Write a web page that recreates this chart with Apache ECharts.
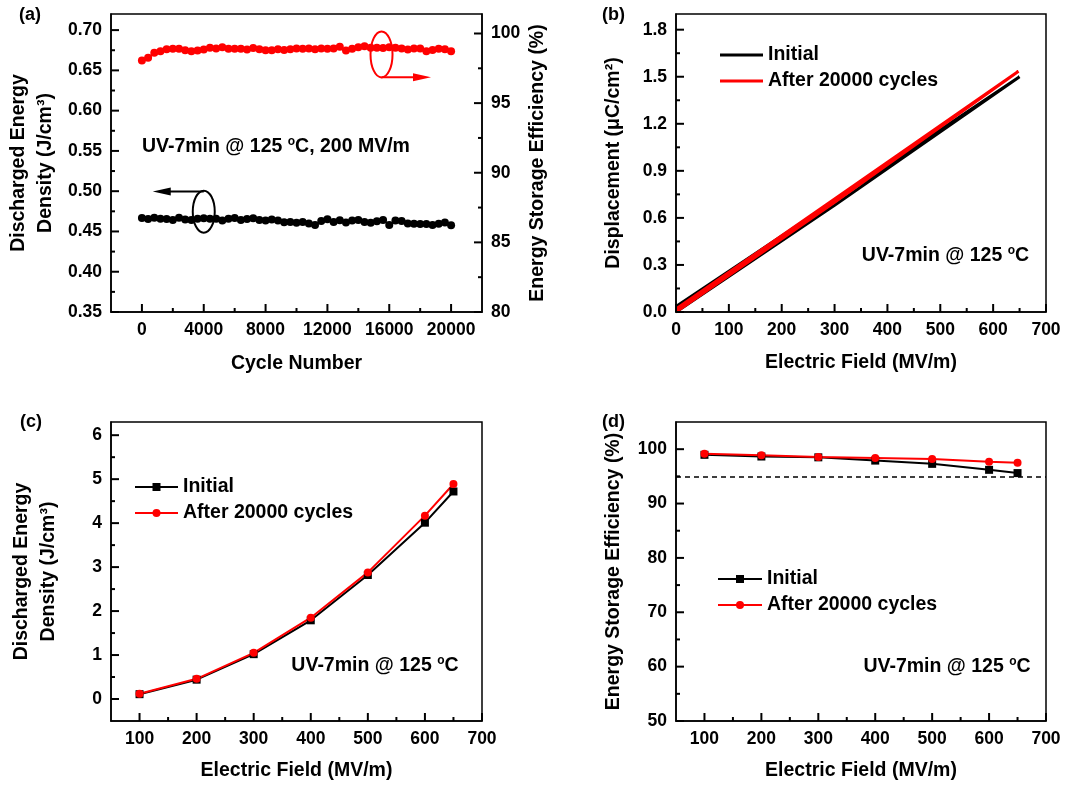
<!DOCTYPE html>
<html><head><meta charset="utf-8">
<script src="https://cdn.jsdelivr.net/npm/echarts@6/dist/echarts.min.js"></script>
<style>html,body{margin:0;padding:0;background:#fff}#c{width:1070px;height:785px}</style>
</head><body><div id="c"></div>
<script>
// ---------- DATA ----------
const aCycles = [0,400,800,1200,1600,2000,2400,2800,3200,3600,4000,4400,4800,5200,5600,6000,6400,6800,7200,7600,8000,8400,8800,9200,9600,10000,10400,10800,11200,11600,12000,12400,12800,13200,13600,14000,14400,14800,15200,15600,16000,16400,16800,17200,17600,18000,18400,18800,19200,19600,20000];
const aDensity = [0.4667,0.4655,0.4671,0.4659,0.4655,0.4643,0.4671,0.4647,0.4643,0.4659,0.4663,0.4659,0.4659,0.4635,0.4659,0.4667,0.4643,0.4655,0.4663,0.4643,0.4635,0.4647,0.4635,0.4613,0.4619,0.4607,0.4619,0.4600,0.4580,0.4631,0.4651,0.4619,0.4639,0.4611,0.4635,0.4643,0.4619,0.4607,0.4627,0.4643,0.4580,0.4635,0.4631,0.4600,0.4595,0.4592,0.4592,0.4580,0.4596,0.4611,0.4576];
const aEfficiency = [98.06,98.25,98.61,98.73,98.87,98.90,98.90,98.80,98.73,98.78,98.85,98.97,98.92,99.02,98.90,98.90,98.90,98.85,98.95,98.87,98.80,98.80,98.87,98.82,98.87,98.92,98.90,98.92,98.87,98.92,98.90,98.92,99.04,98.78,98.90,99.02,99.09,98.97,98.97,98.95,99.02,98.97,98.92,98.85,98.92,98.92,98.73,98.82,98.90,98.87,98.73];

const bInitialField = [0,300,650,300,0];
const bInitialD     = [0,0.68,1.50,0.71,0.035];
const bAfterField   = [0,300,648,300,0];
const bAfterD       = [0,0.70,1.535,0.72,0.02];

const cField   = [100,200,300,400,500,600,650];
const cInitial = [0.11,0.44,1.02,1.79,2.82,4.01,4.72];
const cAfter   = [0.12,0.46,1.05,1.85,2.88,4.17,4.89];

const dField   = [100,200,300,400,500,600,650];
const dInitial = [98.96,98.65,98.5,97.9,97.3,96.2,95.6];
const dAfter   = [99.14,98.9,98.55,98.4,98.2,97.7,97.5];
const dThreshold = 95;

// tick labels (major ticks) and minor ticks
const aXLabels  = [0,4000,8000,12000,16000,20000];
const aXMinor   = [2000,6000,10000,14000,18000];
const aYLLabels = [0.35,0.40,0.45,0.50,0.55,0.60,0.65,0.70];
const aYLMinor  = [0.375,0.425,0.475,0.525,0.575,0.625,0.675];
const aYRLabels = [80,85,90,95,100];
const aYRMinor  = [82.5,87.5,92.5,97.5];
const bXLabels  = [0,100,200,300,400,500,600,700];
const bXMinor   = [50,150,250,350,450,550,650];
const bYLabels  = [0,0.3,0.6,0.9,1.2,1.5,1.8];
const bYMinor   = [0.15,0.45,0.75,1.05,1.35,1.65];
const cXLabels  = [100,200,300,400,500,600,700];
const cXMinor   = [150,250,350,450,550,650];
const cYLabels  = [0,1,2,3,4,5,6];
const cYMinor   = [0.5,1.5,2.5,3.5,4.5,5.5];
const dXLabels  = [100,200,300,400,500,600,700];
const dXMinor   = [150,250,350,450,550,650];
const dYLabels  = [50,60,70,80,90,100];
const dYMinor   = [55,65,75,85,95];

// ---------- STYLE ----------
const FONT = '"Liberation Sans", Arial, sans-serif';
const TICK_FS = 17.5, TITLE_FS = 19.5;

function axis(grid, position, min, max, interval, labels, fmt, name, nameGap, nameLH) {
  const shown = v => labels.some(l => Math.abs(l - v) < 1e-6);
  return {
    type: 'value', gridIndex: grid, position: position, min: min, max: max, interval: interval,
    axisLine: { show: true, onZero: false, lineStyle: { color: '#000', width: 1.5 } },
    axisTick: { show: false },
    minorTick: { show: false },
    axisLabel: { show: true, formatter: v => (shown(v) ? fmt(v) : ''), margin: 9, color: '#000',
      fontSize: TICK_FS, fontWeight: 'bold', fontFamily: FONT, hideOverlap: false },
    splitLine: { show: false }, minorSplitLine: { show: false },
    name: name, nameLocation: 'middle', nameGap: nameGap,
    nameTextStyle: { color: '#000', fontSize: TITLE_FS, fontWeight: 'bold', fontFamily: FONT, lineHeight: nameLH || 23 }
  };
}

const grids = [
  { left: 111, top: 14, width: 371, height: 298 },
  { left: 676, top: 14, width: 370, height: 298 },
  { left: 111, top: 422, width: 371, height: 299 },
  { left: 676, top: 422, width: 370, height: 299 }
].map(g => Object.assign(g, { show: true, borderColor: '#000', borderWidth: 1.5, containLabel: false, outerBoundsMode: 'none' }));

const f0 = v => String(Math.round(v));
const f1 = v => v.toFixed(1);
const f2 = v => v.toFixed(2);

const xAxes = [
  axis(0, 'bottom', -2000, 22000, 2000, aXLabels, f0, 'Cycle Number', 40),
  axis(1, 'bottom', 0, 700, 100, bXLabels, f0, 'Electric Field (MV/m)', 39),
  axis(2, 'bottom', 50, 700, 50, cXLabels, f0, 'Electric Field (MV/m)', 38),
  axis(3, 'bottom', 50, 700, 50, dXLabels, f0, 'Electric Field (MV/m)', 38)
];
const yAxes = [
  axis(0, 'left', 0.35, 0.72, 0.05, aYLLabels, f2, 'Discharged Energy\nDensity (J/cm³)', 52, 27),
  axis(0, 'right', 80, 101.4, 5, aYRLabels, f0, 'Energy Storage Efficiency (%)', 44),
  axis(1, 'left', 0, 1.9, 0.3, bYLabels, f1, 'Displacement (μC/cm²)', 51),
  axis(2, 'left', -0.5, 6.3, 0.5, cYLabels, f0, 'Discharged Energy\nDensity (J/cm³)', 49, 27),
  axis(3, 'left', 50, 105, 10, dYLabels, f0, 'Energy Storage Efficiency (%)', 51)
];
// indices: x: a0 b1 c2 d3 ; y: aL0 aR1 b2 c3 d4

const zip = (xs, ys) => xs.map((x, i) => [x, ys[i]]);
const legendText = { color: '#000', fontSize: TITLE_FS, fontWeight: 'bold', fontFamily: FONT };

const series = [
  { type: 'line', name: 'a|density', xAxisIndex: 0, yAxisIndex: 0, data: zip(aCycles, aDensity),
    symbol: 'circle', symbolSize: 8, lineStyle: { color: '#000', width: 1.5 }, itemStyle: { color: '#000' } },
  { type: 'line', name: 'a|efficiency', xAxisIndex: 0, yAxisIndex: 1, data: zip(aCycles, aEfficiency),
    symbol: 'circle', symbolSize: 8, lineStyle: { color: '#f00', width: 1.5 }, itemStyle: { color: '#f00' } },

  { type: 'line', name: 'b|Initial', xAxisIndex: 1, yAxisIndex: 2, data: zip(bInitialField, bInitialD),
    symbol: 'none', lineStyle: { color: '#000', width: 3 }, itemStyle: { color: '#000' } },
  { type: 'line', name: 'b|After 20000 cycles', xAxisIndex: 1, yAxisIndex: 2, data: zip(bAfterField, bAfterD),
    symbol: 'none', lineStyle: { color: '#f00', width: 3 }, itemStyle: { color: '#f00' } },

  { type: 'line', name: 'c|Initial', xAxisIndex: 2, yAxisIndex: 3, data: zip(cField, cInitial),
    symbol: 'rect', symbolSize: 8, lineStyle: { color: '#000', width: 2 }, itemStyle: { color: '#000' } },
  { type: 'line', name: 'c|After 20000 cycles', xAxisIndex: 2, yAxisIndex: 3, data: zip(cField, cAfter),
    symbol: 'circle', symbolSize: 8, lineStyle: { color: '#f00', width: 2 }, itemStyle: { color: '#f00' } },

  { type: 'line', name: 'd|Initial', xAxisIndex: 3, yAxisIndex: 4, data: zip(dField, dInitial),
    symbol: 'rect', symbolSize: 8, lineStyle: { color: '#000', width: 2 }, itemStyle: { color: '#000' },
    markLine: { silent: true, symbol: ['none', 'none'], label: { show: false },
      lineStyle: { type: [5, 4], color: '#000', width: 1.5 }, data: [{ yAxis: dThreshold }] } },
  { type: 'line', name: 'd|After 20000 cycles', xAxisIndex: 3, yAxisIndex: 4, data: zip(dField, dAfter),
    symbol: 'circle', symbolSize: 8, lineStyle: { color: '#f00', width: 2 }, itemStyle: { color: '#f00' } }
];

const mkLegend = (p, left, top, width, lineOnly) => ({
  orient: 'vertical', left: left, top: top, padding: 0,
  itemGap: 6, itemWidth: width, itemHeight: lineOnly ? 3 : 10,
  icon: lineOnly ? 'rect' : undefined,
  data: [p + '|Initial', p + '|After 20000 cycles'], formatter: n => n.split('|')[1],
  textStyle: legendText, selectedMode: false
});

const option = {
  animation: false,
  backgroundColor: '#fff',
  grid: grids,
  xAxis: xAxes,
  yAxis: yAxes,
  legend: [mkLegend('b', 720, 45, 43, true), mkLegend('c', 134, 477, 43, false), mkLegend('d', 717, 569, 44, false)],
  series: series
};

const chart = echarts.init(document.getElementById('c'), null, { renderer: 'canvas' });
chart.setOption(option);

// ---------- TICKS & ANNOTATIONS ----------
const P = (xi, yi, pt) => chart.convertToPixel({ xAxisIndex: xi, yAxisIndex: yi }, pt);

function ticks(xi, yi, dir, side, values, len) {
  const xr = [xAxes[xi].min, xAxes[xi].max], yr = [yAxes[yi].min, yAxes[yi].max];
  const pts = [];
  values.forEach(v => {
    if (dir === 'x') {
      const p = P(xi, yi, [v, yr[0]]);
      pts.push([[p[0], p[1]], [p[0], p[1] - len]]);
    } else {
      const edge = side === 'left' ? xr[0] : xr[1];
      const p = P(xi, yi, [edge, v]);
      const s = side === 'left' ? 1 : -1;
      pts.push([[p[0], p[1]], [p[0] + s * len, p[1]]]);
    }
  });
  return pts.map(seg => ({
    type: 'polyline', z: 100, silent: true,
    shape: { points: seg },
    style: { stroke: '#000', lineWidth: 2, fill: null }
  }));
}
const MAJ = 8, MIN = 4;
const tickEls = [].concat(
  ticks(0, 0, 'x', 'bottom', aXLabels, MAJ), ticks(0, 0, 'x', 'bottom', aXMinor, MIN),
  ticks(0, 0, 'y', 'left', aYLLabels, MAJ), ticks(0, 0, 'y', 'left', aYLMinor, MIN),
  ticks(0, 1, 'y', 'right', aYRLabels, MAJ), ticks(0, 1, 'y', 'right', aYRMinor, MIN),
  ticks(1, 2, 'x', 'bottom', bXLabels, MAJ), ticks(1, 2, 'x', 'bottom', bXMinor, MIN),
  ticks(1, 2, 'y', 'left', bYLabels, MAJ), ticks(1, 2, 'y', 'left', bYMinor, MIN),
  ticks(2, 3, 'x', 'bottom', cXLabels, MAJ), ticks(2, 3, 'x', 'bottom', cXMinor, MIN),
  ticks(2, 3, 'y', 'left', cYLabels, MAJ), ticks(2, 3, 'y', 'left', cYMinor, MIN),
  ticks(3, 4, 'x', 'bottom', dXLabels, MAJ), ticks(3, 4, 'x', 'bottom', dXMinor, MIN),
  ticks(3, 4, 'y', 'left', dYLabels, MAJ), ticks(3, 4, 'y', 'left', dYMinor, MIN)
);

const rich = {
  n: { fontSize: TITLE_FS, fontWeight: 'bold', fontFamily: FONT, fill: '#000', color: '#000', lineHeight: 22 },
  s: { fontSize: 12, fontWeight: 'bold', fontFamily: FONT, fill: '#000', color: '#000', lineHeight: 22, verticalAlign: 'top' }
};
function note(pt, text, align) {
  return { type: 'text', x: pt[0], y: pt[1], z: 100,
    style: { text: text, rich: rich, align: align, verticalAlign: 'middle', textAlign: align, textVerticalAlign: 'middle' } };
}
function panelLabel(x, y, t) {
  return { type: 'text', x: x, y: y, z: 100, style: { text: t, fill: '#000', font: 'bold 18px ' + FONT, verticalAlign: 'middle', textVerticalAlign: 'middle' } };
}
function arrow(from, tipX, color) {
  const y = from[1];
  const dir = tipX > from[0] ? 1 : -1;
  return [
    { type: 'line', z: 100, shape: { x1: from[0], y1: y, x2: tipX - dir * 14, y2: y }, style: { stroke: color, lineWidth: 2 } },
    { type: 'polygon', z: 100, shape: { points: [[tipX, y], [tipX - dir * 18, y - 4], [tipX - dir * 18, y + 4]] }, style: { fill: color } }
  ];
}

const redC = P(0, 1, [15500, 98.5]);
const redArrowStart = P(0, 1, [15500, 96.85]);
const redArrowTip = P(0, 1, [18700, 96.85]);
const blkC = P(0, 0, [4000, 0.4746]);
const blkArrowStart = P(0, 0, [4000, 0.4996]);
const blkArrowTip = P(0, 0, [700, 0.4996]);

const graphics = tickEls.concat([
  panelLabel(19, 15, '(a)'), panelLabel(602, 15, '(b)'), panelLabel(20, 422, '(c)'), panelLabel(602, 422, '(d)'),
  note(P(0, 0, [0, 0.555]), '{n|UV-7min @ 125 }{s|o}{n|C, 200 MV/m}', 'left'),
  note(P(1, 2, [668, 0.36]), '{n|UV-7min @ 125 }{s|o}{n|C}', 'right'),
  note(P(2, 3, [659, 0.75]), '{n|UV-7min @ 125 }{s|o}{n|C}', 'right'),
  note(P(3, 4, [673, 60]), '{n|UV-7min @ 125 }{s|o}{n|C}', 'right'),
  { type: 'ellipse', z: 100, shape: { cx: redC[0], cy: redC[1], rx: 11, ry: 23 }, style: { fill: 'none', stroke: '#f00', lineWidth: 2 } },
  { type: 'ellipse', z: 100, shape: { cx: blkC[0], cy: blkC[1], rx: 11, ry: 21 }, style: { fill: 'none', stroke: '#000', lineWidth: 2 } }
], arrow(redArrowStart, redArrowTip[0], '#f00'), arrow(blkArrowStart, blkArrowTip[0], '#000'));

chart.setOption({ graphic: { elements: graphics } });
</script></body></html>
